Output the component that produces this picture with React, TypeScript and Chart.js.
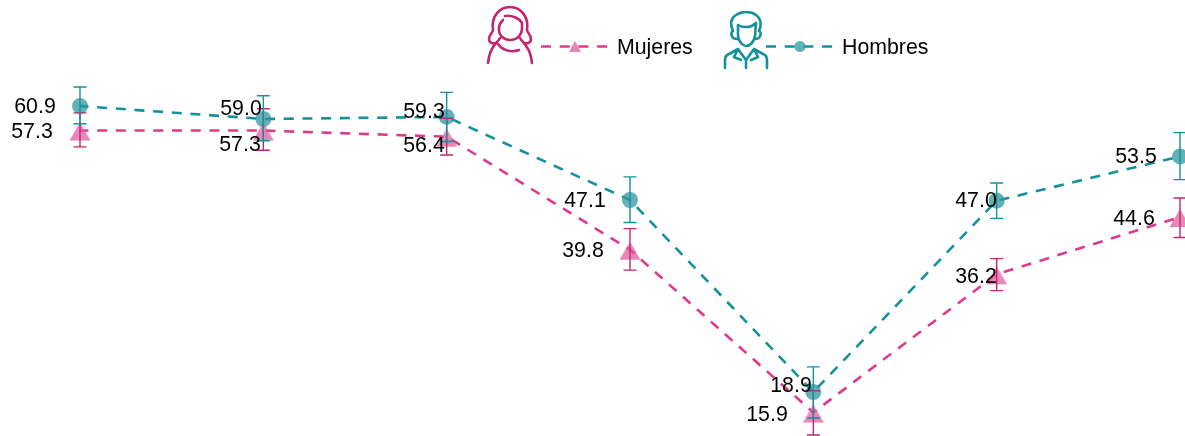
import React, { useEffect, useRef } from "react";
import { Chart, registerables } from "chart.js";

Chart.register(...registerables);

const categories = ["2015", "2016", "2017", "2018", "2019", "2020", "2021"];
const mujeres = [57.3, 57.3, 56.4, 39.8, 15.9, 36.2, 44.6];
const hombres = [60.9, 59.0, 59.3, 47.1, 18.9, 47.0, 53.5];
const mujeresLow = [54.9, 54.4, 53.7, 36.8, 12.6, 33.8, 41.6];
const mujeresHigh = [59.9, 60.5, 59.1, 42.9, 19.1, 38.5, 47.4];
const hombresLow = [58.3, 55.8, 55.7, 43.8, 15.1, 44.4, 50.1];
const hombresHigh = [63.7, 62.4, 62.9, 50.5, 22.6, 49.6, 57.0];

const PINK = "#dd3a8c";
const PINK_DARK = "#c4266f";
const TEAL = "#14919b";
const labelFont = "21.3px 'Liberation Sans', Arial, sans-serif";

const mujeresLabelPos = [
  [32, 132], [240, 145], [424, 146], [583, 251], [767, 415], [976, 277], [1134, 219],
];
const hombresLabelPos = [
  [35, 107], [241, 109], [424, 112], [585, 201], [791, 386], [976, 201], [1136, 157],
];

const womanIcon = "M13 30 C11 17 19 7 30 7 C41 7 49 17 47 30 M13 30 C12 34 9 35 9 39 C9 43 13 44 16 43 C18 41 19 40 20 38 M47 30 C48 34 51 35 51 39 C51 43 47 44 44 43 C42 41 41 40 40 38 M8 63 C9 56 10 52 12 49 C13 47 14 45 16 43 M52 63 C51 56 50 52 48 49 C47 47 46 46 44 43 M18 44 C22 50 31 53 39 50 M19 28 C19 24 21 22 23 20 M25 16 C32 15 39 18 42 23 M19 28 C18 35 24 40 30 40 C37 40 42 35 42 28 L42 23";
const manIcon = "M18 26 C15 19 16 13 21 10 C27 6 36 6 41 10 C46 13 47 20 44 26 M23 20 C28 23 36 23 41 18 M23 20 L23 31 C24 37 28 41 31 41 C35 41 39 37 40 31 L41 18 M18 26 C15 27 16 34 22 34 M44 26 C47 27 46 34 40 34 M10 63 L10 55 C10 52 11 50 14 49 L23 44 L31 55 L39 44 L48 49 C51 50 52 52 52 55 L52 63 M31 55 L31 63 M23 44 L19 52 L26 55 M39 44 L43 52 L36 55";

function errorBars(chart: any, lows: number[], highs: number[], color: string) {
  const { ctx, scales } = chart;
  ctx.save();
  ctx.strokeStyle = color;
  ctx.lineWidth = 1.4;
  categories.forEach((_, i) => {
    const x = scales.x.getPixelForValue(i);
    const y0 = scales.y.getPixelForValue(lows[i]);
    const y1 = scales.y.getPixelForValue(highs[i]);
    ctx.beginPath();
    ctx.moveTo(x, y0);
    ctx.lineTo(x, y1);
    ctx.moveTo(x - 6.5, y0);
    ctx.lineTo(x + 6.5, y0);
    ctx.moveTo(x - 6.5, y1);
    ctx.lineTo(x + 6.5, y1);
    ctx.stroke();
  });
  ctx.restore();
}

const overlay = {
  id: "overlay",
  afterDatasetsDraw(chart: any) {
    const { ctx } = chart;
    errorBars(chart, mujeresLow, mujeresHigh, PINK_DARK);
    errorBars(chart, hombresLow, hombresHigh, TEAL);

    ctx.save();
    ctx.fillStyle = "#000";
    ctx.font = labelFont;
    ctx.textAlign = "center";
    ctx.textBaseline = "middle";
    mujeres.forEach((v, i) => ctx.fillText(v.toFixed(1), mujeresLabelPos[i][0], mujeresLabelPos[i][1]));
    hombres.forEach((v, i) => ctx.fillText(v.toFixed(1), hombresLabelPos[i][0], hombresLabelPos[i][1]));

    ctx.textAlign = "left";
    ctx.fillText("Mujeres", 617, 48);
    ctx.fillText("Hombres", 842, 48);

    ctx.lineWidth = 2.6;
    ctx.setLineDash([10, 8.7]);
    ctx.strokeStyle = PINK;
    ctx.beginPath();
    ctx.moveTo(541, 46.5);
    ctx.lineTo(608, 46.5);
    ctx.stroke();
    ctx.strokeStyle = TEAL;
    ctx.beginPath();
    ctx.moveTo(766, 46.5);
    ctx.lineTo(833, 46.5);
    ctx.stroke();
    ctx.setLineDash([]);

    ctx.fillStyle = "rgba(225,90,155,0.75)";
    ctx.beginPath();
    ctx.moveTo(575, 41);
    ctx.lineTo(581, 52);
    ctx.lineTo(569, 52);
    ctx.closePath();
    ctx.fill();
    ctx.fillStyle = "rgba(45,150,160,0.75)";
    ctx.beginPath();
    ctx.arc(800, 46.5, 5.5, 0, Math.PI * 2);
    ctx.fill();

    ctx.lineCap = "round";
    ctx.lineJoin = "round";
    ctx.lineWidth = 2.6;
    ctx.save();
    ctx.translate(480, 0);
    ctx.strokeStyle = PINK_DARK;
    ctx.stroke(new Path2D(womanIcon));
    ctx.restore();
    ctx.save();
    ctx.translate(715, 5);
    ctx.strokeStyle = TEAL;
    ctx.stroke(new Path2D(manIcon));
    ctx.restore();
    ctx.restore();
  },
};

function triangleSprite() {
  const c = document.createElement("canvas");
  c.width = 24;
  c.height = 30;
  const g = c.getContext("2d")!;
  g.fillStyle = "rgba(225,90,155,0.72)";
  g.beginPath();
  g.moveTo(12, 7);
  g.lineTo(22.5, 25);
  g.lineTo(1.5, 25);
  g.closePath();
  g.fill();
  return c;
}

export default function App() {
  const ref = useRef<HTMLCanvasElement>(null);
  useEffect(() => {
    document.body.style.margin = "0";
    document.body.style.background = "#fff";
    const chart = new Chart(ref.current!, {
      type: "line",
      data: {
        labels: categories,
        datasets: [
          {
            label: "Mujeres",
            data: mujeres,
            borderColor: PINK,
            borderWidth: 2.6,
            borderDash: [10, 8.7],
            borderDashOffset: 1.5,
            tension: 0,
            pointStyle: triangleSprite(),
            pointRadius: 12,
            pointBorderWidth: 0,
            clip: false,
          },
          {
            label: "Hombres",
            data: hombres,
            borderColor: TEAL,
            borderWidth: 2.6,
            borderDash: [10, 8.7],
            borderDashOffset: 1.5,
            tension: 0,
            pointStyle: "circle",
            pointRadius: 8,
            pointBackgroundColor: "rgba(45,150,160,0.75)",
            pointBorderWidth: 0,
            clip: false,
          },
        ],
      },
      options: {
        responsive: false,
        animation: false,
        layout: { autoPadding: false, padding: { left: 80, right: 5, top: 0, bottom: 0 } },
        plugins: { legend: { display: false }, tooltip: { enabled: false }, title: { display: false } },
        scales: {
          x: { type: "category", offset: false, display: false },
          y: { display: false, min: 12.45, max: 76.47 },
        },
      },
      plugins: [overlay],
    } as any);
    return () => chart.destroy();
  }, []);
  return <canvas ref={ref} width={1185} height={436} style={{ display: "block" }} />;
}
